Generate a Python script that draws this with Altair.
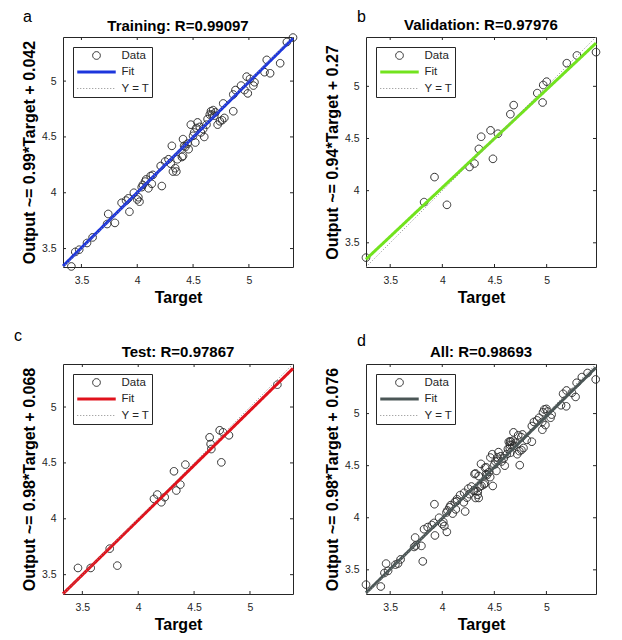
import altair as alt
import pandas as pd

# ---------------- data ----------------
TICKS = [3.5, 4.0, 4.5, 5.0]
SERIES = ["Data", "Fit", "Y = T"]

train_target = [3.41, 3.445, 3.48, 3.55, 3.60, 3.73, 3.74, 3.80, 3.86, 3.90,
                3.92, 3.93, 3.97, 4.00, 4.01, 4.02, 4.04, 4.05, 4.07, 4.08,
                4.10, 4.12, 4.13, 4.14, 4.22, 4.21, 4.25, 4.28, 4.30, 4.31,
                4.32, 4.34, 4.35, 4.36, 4.40, 4.41, 4.42, 4.41, 4.43, 4.45,
                4.46, 4.48, 4.50, 4.51, 4.52, 4.53, 4.54, 4.56, 4.57, 4.59,
                4.60, 4.62, 4.63, 4.65, 4.66, 4.67, 4.68, 4.69, 4.70, 4.72,
                4.74, 4.76, 4.78, 4.77, 4.86, 4.86, 4.88, 4.93, 4.96, 4.98,
                4.99, 5.01, 5.04, 5.05, 5.14, 5.16, 5.19, 5.28, 5.34, 5.395]
train_output = [3.34, 3.47, 3.49, 3.55, 3.60, 3.72, 3.81, 3.73, 3.91, 3.93,
                3.95, 3.83, 4.00, 3.94, 3.96, 3.92, 4.05, 4.07, 4.10, 4.12,
                4.04, 4.15, 4.08, 4.16, 4.06, 4.24, 4.28, 4.30, 4.26, 4.42,
                4.19, 4.22, 4.19, 4.30, 4.32, 4.33, 4.42, 4.48, 4.41, 4.44,
                4.39, 4.61, 4.51, 4.54, 4.45, 4.58, 4.63, 4.59, 4.54, 4.57,
                4.50, 4.61, 4.66, 4.70, 4.73, 4.70, 4.74, 4.69, 4.72, 4.61,
                4.64, 4.65, 4.67, 4.80, 4.73, 4.88, 4.92, 4.96, 4.92, 5.04,
                4.89, 5.02, 4.96, 4.99, 5.08, 5.19, 5.07, 5.16, 5.35, 5.39]

val_target = [3.268, 3.825, 3.925, 4.044, 4.26, 4.308, 4.35, 4.372, 4.462, 4.485,
              4.533, 4.652, 4.684, 4.91, 4.961, 4.967, 5.0, 5.193, 5.29, 5.473]
val_output = [3.358, 3.89, 4.13, 3.864, 4.227, 4.26, 4.40, 4.517, 4.578, 4.305,
              4.546, 4.733, 4.82, 4.935, 4.845, 5.013, 5.045, 5.222, 5.296, 5.328]

test_target = [3.461, 3.575, 3.745, 3.813, 4.141, 4.171, 4.207, 4.237, 4.32, 4.341,
               4.377, 4.422, 4.639, 4.648, 4.654, 4.729, 4.744, 4.759, 4.812, 5.245]
test_output = [3.56, 3.56, 3.733, 3.581, 4.178, 4.217, 4.148, 4.193, 4.425, 4.253,
               4.306, 4.485, 4.729, 4.669, 4.624, 4.792, 4.505, 4.774, 4.747, 5.20]

all_target = train_target + val_target + test_target
all_output = train_output + val_output + test_output

letters = ["a", "b", "c", "d"]
titles = ["Training: R=0.99097", "Validation: R=0.97976", "Test: R=0.97867", "All: R=0.98693"]
y_titles = ["Output ~= 0.99*Target + 0.042", "Output ~= 0.94*Target + 0.27",
            "Output ~= 0.98*Target + 0.068", "Output ~= 0.98*Target + 0.076"]
fit_slopes = [0.99, 0.94, 0.98, 0.98]
fit_intercepts = [0.042, 0.27, 0.068, 0.076]
axis_lo = [3.335, 3.268, 3.327, 3.268]
axis_hi = [5.395, 5.473, 5.385, 5.476]

# ---------------- styles ----------------
FIT_COLORS = ["#1d36dc", "#72e31e", "#e0121c", "#4b5656"]
DATA_COLOR = "#2b2b2b"
IDENT_COLOR = "#8a8a8a"
AXC = "#262626"
FONT = "Liberation Sans"
W = 230
H = 230
CIRCLE = "M-0.2,0A0.2,0.2,0,1,0,0.2,0A0.2,0.2,0,1,0,-0.2,0Z"
letter_dx = [-40, -9, -49, -9]
letter_dy = [-15, -15, -23, -18]
title_dy = [-6, -7, -7, -7]


def make_panel(i, t_vals, o_vals):
    lo, hi = axis_lo[i], axis_hi[i]
    sc = alt.Scale(domain=[lo, hi], nice=False, zero=False)
    ax = alt.Axis(title="Target", values=TICKS, format="~g", ticks=False, domain=False,
                  grid=False, labelPadding=8, titlePadding=4)
    ay = alt.Axis(title=y_titles[i], values=TICKS, format="~g", ticks=False, domain=False,
                  grid=False, labelPadding=7, titlePadding=4)

    def X(f):
        return alt.X(f, type="quantitative", scale=sc, axis=ax)

    def Y(f):
        return alt.Y(f, type="quantitative", scale=sc, axis=ay)

    lg = alt.Legend(title=None)
    color = alt.Color("series:N", scale=alt.Scale(domain=SERIES, range=[DATA_COLOR, FIT_COLORS[i], IDENT_COLOR]), legend=lg)
    shape = alt.Shape("series:N", scale=alt.Scale(domain=SERIES, range=[CIRCLE, "stroke", "stroke"]), legend=lg)
    dash = alt.StrokeDash("series:N", scale=alt.Scale(domain=SERIES, range=[[1, 0], [1, 0], [1, 2]]), legend=lg)
    sw = alt.StrokeWidth("series:N", scale=alt.Scale(type="ordinal", domain=SERIES, range=[1, 3, 1]), legend=lg)

    pts = pd.DataFrame({"t": t_vals, "o": o_vals, "series": "Data"})
    s, b = fit_slopes[i], fit_intercepts[i]
    lines = pd.DataFrame({
        "t": [lo, hi, lo, hi],
        "o": [s * lo + b, s * hi + b, lo, hi],
        "series": ["Fit", "Fit", "Y = T", "Y = T"],
    })
    ticks = pd.DataFrame({"v": TICKS})

    points = alt.Chart(pts).mark_point(filled=False, size=1444, opacity=1).encode(
        x=X("t"), y=Y("o"), color=color, shape=shape, strokeWidth=sw, strokeDash=dash)
    line = alt.Chart(lines).mark_line().encode(
        x=X("t"), y=Y("o"), color=color, strokeDash=dash, strokeWidth=sw)
    tb = alt.Chart(ticks).mark_rule(color=AXC, strokeWidth=1).encode(
        x=X("v"), y=alt.value(H), y2=alt.value(H - 3))
    tt = alt.Chart(ticks).mark_rule(color=AXC, strokeWidth=1).encode(
        x=X("v"), y=alt.value(0), y2=alt.value(3))
    tl = alt.Chart(ticks).mark_rule(color=AXC, strokeWidth=1).encode(
        y=Y("v"), x=alt.value(0), x2=alt.value(3))
    tr = alt.Chart(ticks).mark_rule(color=AXC, strokeWidth=1).encode(
        y=Y("v"), x=alt.value(W), x2=alt.value(W - 3))
    letter = alt.Chart(pd.DataFrame({"letter": [letters[i]]})).mark_text(
        align="left", baseline="alphabetic", fontSize=16, font=FONT, color="black").encode(
        x=alt.value(letter_dx[i]), y=alt.value(letter_dy[i]), text="letter:N")
    title = alt.Chart(pd.DataFrame({"title": [titles[i]]})).mark_text(
        align="center", baseline="alphabetic", fontSize=15, fontWeight="bold", font=FONT,
        color="black").encode(
        x=alt.value(W / 2), y=alt.value(title_dy[i]), text="title:N")

    return alt.layer(points, line, tb, tt, tl, tr, letter, title).properties(width=W, height=H)


panels = [
    make_panel(0, train_target, train_output),
    make_panel(1, val_target, val_output),
    make_panel(2, test_target, test_output),
    make_panel(3, all_target, all_output),
]

chart = alt.concat(*panels, columns=2, spacing={"row": 97, "column": 73}, bounds="flush").resolve_scale(
    x="independent", y="independent", color="independent", shape="independent",
    strokeDash="independent", strokeWidth="independent",
).resolve_legend(
    color="independent", shape="independent", strokeDash="independent", strokeWidth="independent",
).properties(
    padding={"left": 5, "top": 0, "right": 5, "bottom": 5},
    background="white",
).configure_view(
    stroke=AXC, strokeWidth=1, fill="white",
).configure_axis(
    labelFont=FONT, labelFontSize=10.5, labelColor=AXC,
    titleFont=FONT, titleFontSize=16, titleFontWeight="bold", titleColor="black",
).configure_legend(
    orient="top-left", offset=10, padding=2.5, rowPadding=4.5, labelOffset=4,
    labelFont=FONT, labelFontSize=11.5, labelColor=AXC, strokeColor=AXC,
    fillColor="white", symbolSize=1480, clipHeight=12, cornerRadius=0,
)

chart.save("out.html", embed_options={"renderer": "svg", "actions": False})
